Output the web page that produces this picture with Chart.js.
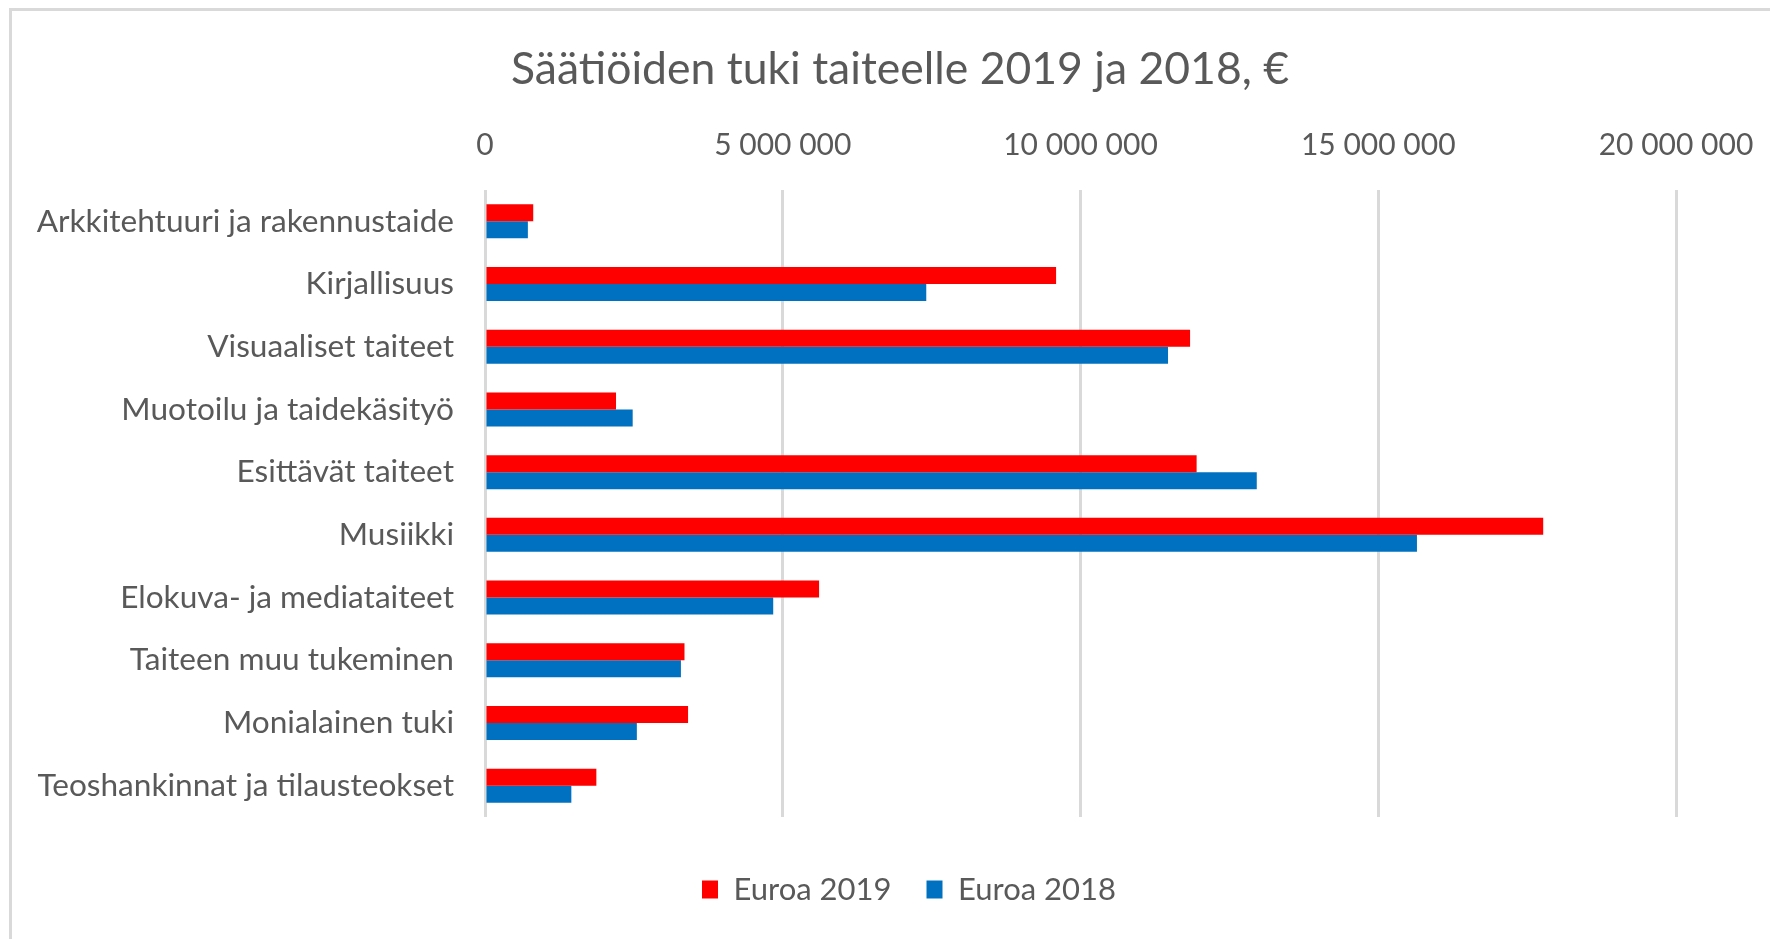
<!DOCTYPE html>
<html>
<head>
<meta charset="utf-8">
<script src="https://cdn.jsdelivr.net/npm/chart.js"></script>
<style>
  html, body { margin: 0; padding: 0; background: #fff; overflow: hidden; width: 1770px; height: 939px; }
  #frame { position: absolute; left: 9px; top: 8px; width: 1800px; height: 1000px; border: 3px solid #d9d9d9; }
  #wrap { position: absolute; left: 0; top: 0; width: 1770px; height: 939px; }
</style>
</head>
<body>
<div id="frame"></div>
<div id="wrap"><canvas id="tukiChart"></canvas></div>
<script>
const categories = [
    'Arkkitehtuuri ja rakennustaide',
    'Kirjallisuus',
    'Visuaaliset taiteet',
    'Muotoilu ja taidekäsityö',
    'Esittävät taiteet',
    'Musiikki',
    'Elokuva- ja mediataiteet',
    'Taiteen muu tukeminen',
    'Monialainen tuki',
    'Teoshankinnat ja tilausteokset'
];
const euroa2019 = [810000, 9590000, 11840000, 2200000, 11950000, 17770000, 5610000, 3350000, 3410000, 1870000];
const euroa2018 = [720000, 7410000, 11470000, 2480000, 12960000, 15650000, 4840000, 3290000, 2550000, 1450000];
const xTicks = [0, 5000000, 10000000, 15000000, 20000000];

const fontFamily = 'Lato';
const textColor = '#595959';

function formatTick(v) {
    return String(v).replace(/\B(?=(\d{3})+(?!\d))/g, ' ');
}

// legend sits a bit right of the title in the original
const legendShift = {
    id: 'legendShift',
    afterLayout(chart) {
        chart.legend.left += 18;
    }
};

let ctx = document.getElementById('tukiChart').getContext('2d');

let barChart = new Chart(ctx, {
    type: 'bar',
    data: {
        labels: categories,
        datasets: [{
            label: 'Euroa 2019',
            data: euroa2019,
            backgroundColor: '#ff0000',
            borderWidth: 0
        }, {
            label: 'Euroa 2018',
            data: euroa2018,
            backgroundColor: '#0070c0',
            borderWidth: 0
        }]
    },
    plugins: [legendShift],
    options: {
        indexAxis: 'y',
        responsive: true,
        maintainAspectRatio: false,
        animation: false,
        categoryPercentage: 0.542,
        barPercentage: 1,
        layout: {
            padding: {left: 30, right: 0, top: 0, bottom: 24}
        },
        plugins: {
            title: {
                display: true,
                text: 'Säätiöiden tuki taiteelle 2019 ja 2018, €',
                color: textColor,
                font: {family: fontFamily, size: 44.5, weight: 'normal'},
                padding: {top: 43.3, bottom: 10}
            },
            legend: {
                position: 'bottom',
                labels: {
                    color: textColor,
                    font: {family: fontFamily, size: 31},
                    boxWidth: 16,
                    boxHeight: 18,
                    padding: 35
                },
                // empty title only used as a spacer above the legend items
                title: {
                    display: true,
                    text: '',
                    font: {size: 10},
                    padding: {top: 10, bottom: 0}
                }
            },
            tooltip: {enabled: false}
        },
        scales: {
            x: {
                position: 'top',
                min: 0,
                max: 20000000,
                afterBuildTicks: (scale) => {
                    scale.ticks = xTicks.map(v => ({value: v}));
                },
                ticks: {
                    color: textColor,
                    font: {family: fontFamily, size: 30},
                    padding: 27,
                    callback: (v) => formatTick(v)
                },
                grid: {color: '#d9d9d9', lineWidth: 3, drawTicks: false},
                border: {display: false},
                afterFit: (scale) => {
                    scale.height = 83.3;
                    scale.paddingRight = 94;
                }
            },
            y: {
                grid: {display: false, drawTicks: false},
                border: {display: false},
                ticks: {
                    color: textColor,
                    font: {family: fontFamily, size: 31.6},
                    padding: 31
                },
                afterFit: (scale) => {
                    scale.width = 455;
                }
            }
        }
    }
});
</script>
</body>
</html>
